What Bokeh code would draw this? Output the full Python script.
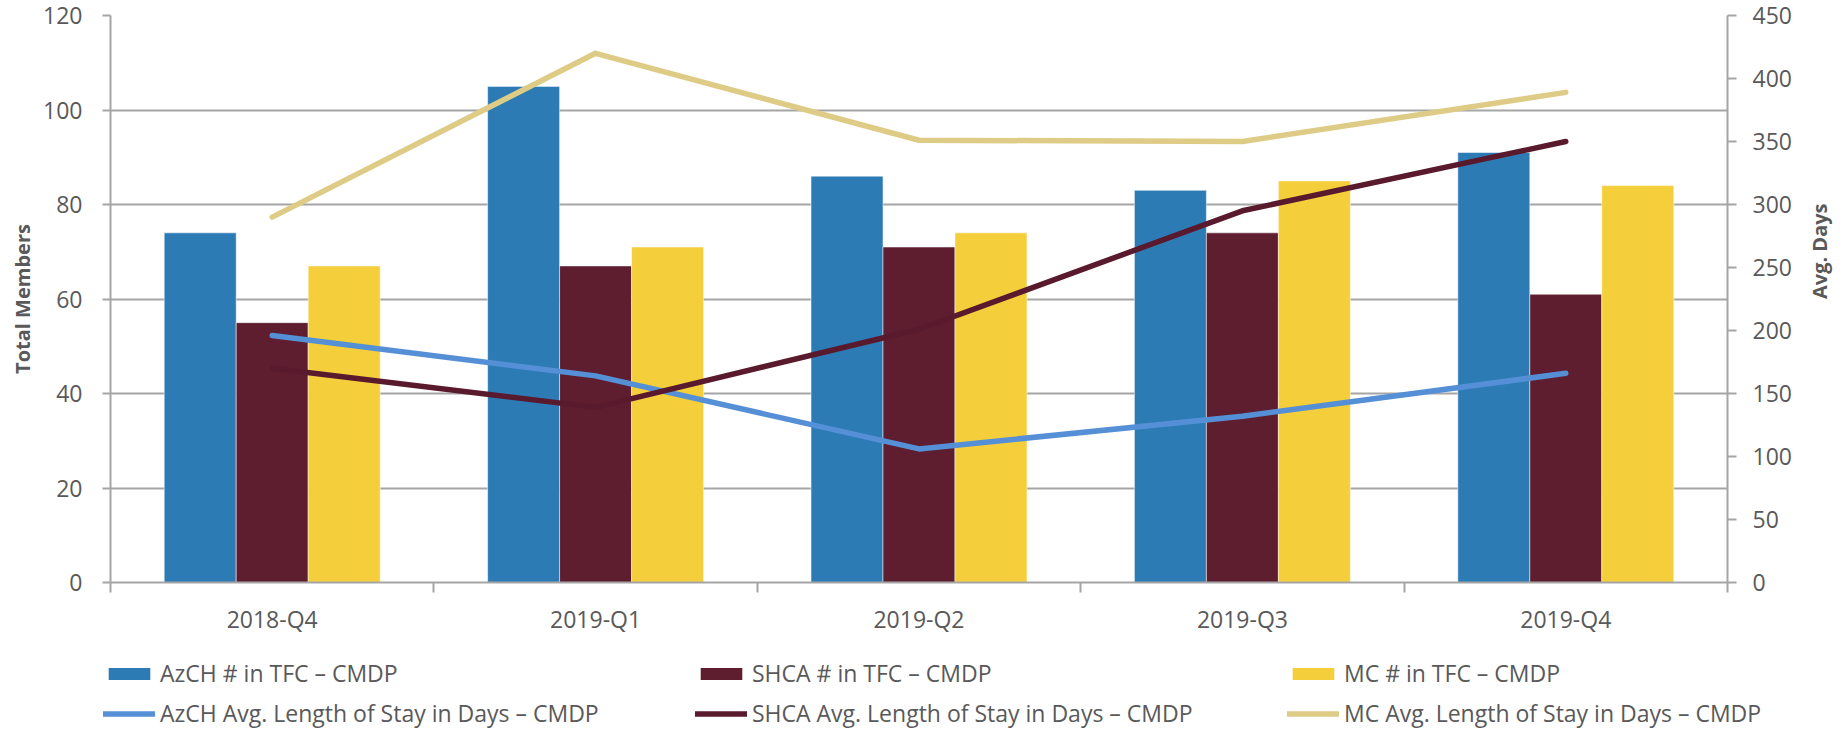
import numpy as np
from bokeh.plotting import figure
from bokeh.models import Range1d, LinearAxis, FixedTicker, Legend, LegendItem
from bokeh.embed import file_html
from bokeh.resources import INLINE

categories = ["2018-Q4", "2019-Q1", "2019-Q2", "2019-Q3", "2019-Q4"]
azch_members = [74, 105, 86, 83, 91]
shca_members = [55, 67, 71, 74, 61]
mc_members = [67, 71, 74, 85, 84]
azch_days = [196, 164, 106, 132, 166]
shca_days = [170, 139, 201, 295, 350]
mc_days = [290, 420, 351, 350, 389]
left_ticks = [0, 20, 40, 60, 80, 100, 120]
right_ticks = [0, 50, 100, 150, 200, 250, 300, 350, 400, 450]

bar_labels = ["AzCH # in TFC \u2013 CMDP", "SHCA # in TFC \u2013 CMDP", "MC # in TFC \u2013 CMDP"]
line_labels = ["AzCH Avg. Length of Stay in Days \u2013 CMDP",
               "SHCA Avg. Length of Stay in Days \u2013 CMDP",
               "MC Avg. Length of Stay in Days \u2013 CMDP"]

BAR_COLORS = ["#2C7BB5", "#5E1E30", "#F4CE3B"]
LINE_COLORS = ["#5590D6", "#5A1A2D", "#DECB86"]
AXIS = "#A5A5A5"
TXT = "#595959"
FONT = "Open Sans"
FS = "23px"

n = len(categories)
centers = np.arange(n) + 0.5
bw = 0.2226

p = figure(frame_width=1617, frame_height=567, x_range=Range1d(0, n), y_range=Range1d(0, 120),
           output_backend="svg", toolbar_location=None,
           min_border_left=0, min_border_right=0, min_border_top=15, min_border_bottom=0)
p.margin = (0, 0, 0, 6)
p.outline_line_color = None
p.extra_y_ranges = {"days": Range1d(0, 450)}

# axes
p.xaxis.ticker = FixedTicker(ticks=list(centers), minor_ticks=list(range(n + 1)))
p.xaxis.major_label_overrides = {float(c): cat for c, cat in zip(centers, categories)}
p.xaxis.major_tick_line_color = None
p.xaxis.major_tick_out = 0
p.xaxis.minor_tick_in = 0
p.xaxis.minor_tick_out = 10
p.xaxis.minor_tick_line_color = AXIS
p.xaxis.minor_tick_line_width = 2
p.xaxis.axis_line_color = AXIS
p.xaxis.axis_line_width = 2
p.xaxis.major_label_standoff = 10

p.yaxis.ticker = FixedTicker(ticks=left_ticks)
p.yaxis.axis_label = "Total Members"
p.yaxis.major_tick_out = 8
p.yaxis.major_tick_in = 0
p.yaxis.major_label_standoff = 20
p.yaxis.axis_label_standoff = 4

ra = LinearAxis(y_range_name="days", ticker=FixedTicker(ticks=right_ticks), axis_label="Avg. Days")
ra.major_tick_out = 9
ra.major_tick_in = 0
ra.major_label_standoff = 16
ra.axis_label_standoff = 25
ra.axis_label_orientation = np.pi / 2
p.add_layout(ra, "right")

for ax in [p.yaxis[0], ra]:
    ax.axis_line_color = AXIS
    ax.axis_line_width = 2
    ax.major_tick_line_color = AXIS
    ax.major_tick_line_width = 2
    ax.minor_tick_line_color = None
    ax.axis_label_text_font = FONT
    ax.axis_label_text_font_style = "bold"
    ax.axis_label_text_font_size = "20px"
    ax.axis_label_text_color = TXT

for ax in [p.xaxis[0], p.yaxis[0], ra]:
    ax.major_label_text_font = FONT
    ax.major_label_text_font_size = FS
    ax.major_label_text_color = TXT

p.xgrid.grid_line_color = None
p.ygrid.ticker = FixedTicker(ticks=left_ticks)
p.ygrid.grid_line_color = AXIS
p.ygrid.grid_line_width = 2

# bars
bar_series = [azch_members, shca_members, mc_members]
for i, (vals, col) in enumerate(zip(bar_series, BAR_COLORS)):
    p.vbar(x=centers + (i - 1) * bw, top=vals, width=bw, bottom=0,
           fill_color=col, line_color="white", line_alpha=0.5, line_width=1)

# lines
line_series = [azch_days, shca_days, mc_days]
for vals, col in zip(line_series, LINE_COLORS):
    p.line(x=centers, y=vals, y_range_name="days", line_color=col, line_width=5.5,
           line_cap="round", line_join="round")

# legend figure (separate root): empty proxy renderers carrying the series styles
lf = figure(width=1827, height=95, x_range=Range1d(0, 1), y_range=Range1d(0, 1),
            output_backend="svg", toolbar_location=None, x_axis_type=None, y_axis_type=None,
            min_border_left=103, min_border_right=0, min_border_top=20, min_border_bottom=0)
lf.outline_line_color = None
lf.grid.grid_line_color = None
bar_rs = [lf.vbar(x=[np.nan], top=[np.nan], width=0.1, fill_color=c, line_color=None)
          for c in BAR_COLORS]
line_rs = [lf.line(x=[np.nan, np.nan], y=[np.nan, np.nan], line_color=c, line_width=5.5,
                   line_cap="round") for c in LINE_COLORS]

items = [LegendItem(label=l, renderers=[r]) for l, r in zip(bar_labels, bar_rs)]
items += [LegendItem(label=l, renderers=[r]) for l, r in zip(line_labels, line_rs)]
lg = Legend(items=items, ncols=3, orientation="horizontal", location="top_left",
            glyph_width=52, glyph_height=15, label_standoff=5, spacing=8, label_width=527,
            padding=0, margin=0, border_line_color=None, background_fill_alpha=0,
            label_text_font=FONT, label_text_font_size=FS, label_text_color=TXT)
lf.add_layout(lg, "center")

open("out.html", "w").write(file_html([p, lf], INLINE))
